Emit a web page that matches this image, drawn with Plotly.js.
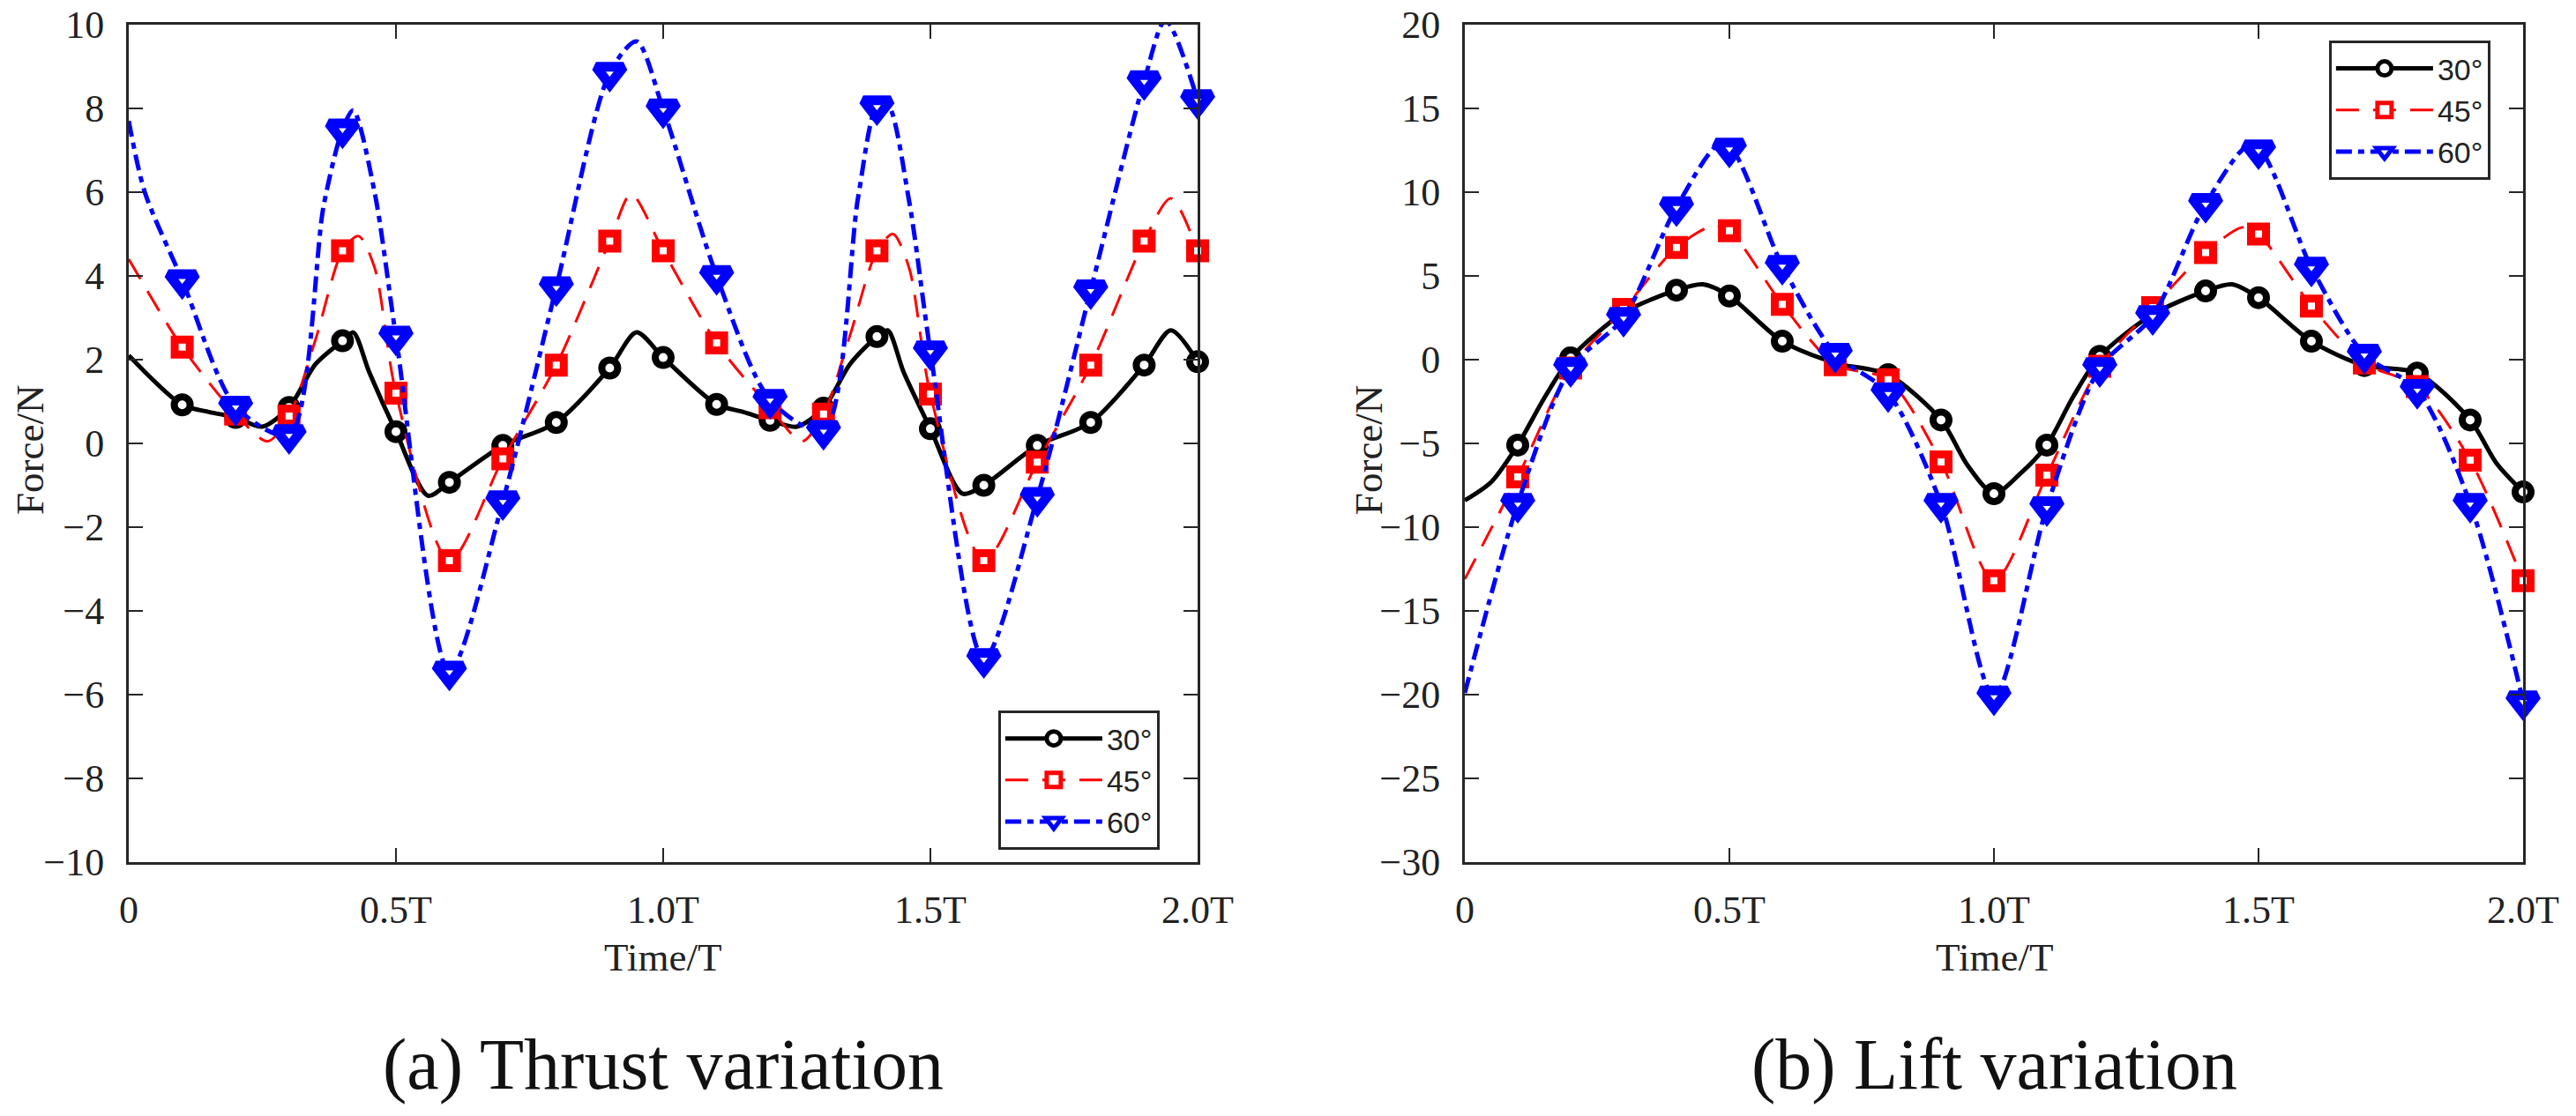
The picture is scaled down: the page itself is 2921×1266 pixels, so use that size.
<!DOCTYPE html>
<html>
<head>
<meta charset="utf-8">
<script src="https://cdn.plot.ly/plotly-3.0.1.min.js"></script>
<style>
  html, body { margin: 0; padding: 0; background: #fff; }
  #chart { width: 2921px; height: 1266px; }
</style>
</head>
<body>
<div id="chart"></div>
<script>
// marker times (fraction of period T)
var tMark = [0.1, 0.2, 0.3, 0.4, 0.5, 0.6, 0.7, 0.8, 0.9, 1.0,
             1.1, 1.2, 1.3, 1.4, 1.5, 1.6, 1.7, 1.8, 1.9, 2.0];
var tickVals = [0, 0.5, 1.0, 1.5, 2.0];
var tickText = ['0', '0.5T', '1.0T', '1.5T', '2.0T'];
var seriesNames = ['30°', '45°', '60°'];

// (a) thrust, marker values
var thrust30Mark = [0.92, 0.62, 0.86, 2.45, 0.28, -0.93, -0.05, 0.5, 1.8, 2.05,
                    0.93, 0.55, 0.84, 2.55, 0.35, -1.0, -0.05, 0.5, 1.87, 1.95];
var thrust45Mark = [2.3, 0.7, 0.65, 4.6, 1.2, -2.8, -0.37, 1.87, 4.83, 4.6,
                    2.4, 0.85, 0.7, 4.6, 1.18, -2.8, -0.45, 1.87, 4.83, 4.6];
var thrust60Mark = [3.9, 0.88, 0.2, 7.5, 2.55, -5.45, -1.38, 3.73, 8.85, 7.98,
                    4.0, 1.04, 0.3, 8.05, 2.2, -5.15, -1.3, 3.66, 8.65, 8.2];

// (a) thrust, curve samples
var thrust30LineT = [0, 0.1, 0.15, 0.2, 0.25, 0.3, 0.35, 0.4, 0.42, 0.45, 0.5, 0.56, 0.6, 0.7, 0.8, 0.9, 0.95, 1.0,
                     1.1, 1.15, 1.2, 1.25, 1.3, 1.35, 1.4, 1.42, 1.45, 1.5, 1.56, 1.6, 1.7, 1.8, 1.9, 1.95, 2.0];
var thrust30LineV = [2.1, 0.92, 0.75, 0.62, 0.4, 0.86, 1.9, 2.45, 2.65, 1.7, 0.28, -1.25, -0.93, -0.05, 0.5, 1.8, 2.65, 2.05,
                     0.93, 0.75, 0.55, 0.4, 0.84, 1.9, 2.55, 2.7, 1.7, 0.35, -1.2, -1.0, -0.05, 0.5, 1.87, 2.7, 1.95];
var thrust45LineT = [0, 0.1, 0.2, 0.26, 0.3, 0.35, 0.4, 0.43, 0.46, 0.5, 0.6, 0.7, 0.8, 0.9, 0.94, 1.0,
                     1.1, 1.2, 1.26, 1.3, 1.35, 1.4, 1.43, 1.46, 1.5, 1.6, 1.7, 1.8, 1.9, 1.95, 2.0];
var thrust45LineV = [4.4, 2.3, 0.7, 0.05, 0.65, 2.5, 4.6, 4.95, 4.2, 1.2, -2.8, -0.37, 1.87, 4.83, 5.95, 4.6,
                     2.4, 0.85, 0.05, 0.7, 2.6, 4.6, 5.0, 4.2, 1.18, -2.8, -0.45, 1.87, 4.83, 5.85, 4.6];
var thrust60LineT = [0, 0.03, 0.1, 0.2, 0.3, 0.365, 0.4, 0.42, 0.46, 0.5, 0.6, 0.7, 0.8, 0.9, 0.95, 1.0,
                     1.1, 1.2, 1.3, 1.365, 1.4, 1.42, 1.46, 1.5, 1.6, 1.7, 1.8, 1.9, 1.94, 2.0];
var thrust60LineV = [7.7, 6.0, 3.9, 0.88, 0.2, 5.7, 7.5, 7.95, 6.0, 2.55, -5.45, -1.38, 3.73, 8.85, 9.6, 7.98,
                     4.0, 1.04, 0.3, 5.9, 8.05, 8.1, 5.8, 2.2, -5.15, -1.3, 3.66, 8.65, 10.1, 8.2];

// (b) lift, marker values
var lift30Mark = [-5.1, 0.1, 2.8, 4.15, 3.8, 1.1, -0.2, -0.9, -3.6, -8.0,
                  -5.1, 0.2, 2.7, 4.1, 3.7, 1.1, -0.35, -0.8, -3.6, -7.9];
var lift45Mark = [-7.0, -0.5, 3.0, 6.7, 7.7, 3.3, -0.3, -1.2, -6.1, -13.2,
                  -6.9, -0.4, 3.1, 6.4, 7.5, 3.2, -0.2, -1.6, -6.0, -13.2];
var lift60Mark = [-8.6, -0.5, 2.5, 9.1, 12.6, 5.6, 0.35, -2.0, -8.6, -20.1,
                  -8.8, -0.5, 2.6, 9.3, 12.5, 5.5, 0.3, -1.8, -8.6, -20.4];

// (b) lift, curve samples
var lift30LineT = [0, 0.05, 0.1, 0.15, 0.2, 0.3, 0.4, 0.45, 0.5, 0.6, 0.7, 0.8, 0.9, 0.95, 1.0,
                   1.05, 1.1, 1.15, 1.2, 1.3, 1.4, 1.45, 1.5, 1.6, 1.7, 1.8, 1.9, 1.95, 2.0];
var lift30LineV = [-8.4, -7.3, -5.1, -2.3, 0.1, 2.8, 4.15, 4.5, 3.8, 1.1, -0.2, -0.9, -3.6, -6.3, -8.0,
                   -6.8, -5.1, -2.2, 0.2, 2.7, 4.1, 4.5, 3.7, 1.1, -0.35, -0.8, -3.6, -6.2, -7.9];
var lift45LineT = [0, 0.1, 0.2, 0.3, 0.4, 0.47, 0.5, 0.6, 0.7, 0.8, 0.9, 1.0,
                   1.1, 1.2, 1.3, 1.4, 1.47, 1.5, 1.6, 1.7, 1.8, 1.9, 2.0];
var lift45LineV = [-13.1, -7.0, -0.5, 3.0, 6.7, 8.0, 7.7, 3.3, -0.3, -1.2, -6.1, -13.2,
                   -6.9, -0.4, 3.1, 6.4, 7.9, 7.5, 3.2, -0.2, -1.6, -6.0, -13.2];
var lift60LineT = [0, 0.1, 0.2, 0.3, 0.4, 0.49, 0.6, 0.7, 0.8, 0.9, 1.0,
                   1.1, 1.2, 1.3, 1.4, 1.49, 1.6, 1.7, 1.8, 1.9, 2.0];
var lift60LineV = [-19.9, -8.6, -0.5, 2.5, 9.1, 13.0, 5.6, 0.35, -2.0, -8.6, -20.1,
                   -8.8, -0.5, 2.6, 9.3, 12.9, 5.5, 0.3, -1.8, -8.6, -20.4];

var serif = 'Liberation Serif, Times New Roman, serif';
var axisColor = '#262626';

var styles = [
  { line: { color: '#000000', width: 5, dash: 'solid' },
    marker: { symbol: 'circle', size: 18, color: '#ffffff', line: { color: '#000000', width: 8 } } },
  { line: { color: '#ff0000', width: 3, dash: '26px,16px' },
    marker: { symbol: 'square', size: 17, color: '#ffffff', line: { color: '#ff0000', width: 9 } } },
  { line: { color: '#0000ff', width: 5, dash: '18px,7px,7px,7px' },
    marker: { symbol: 'triangle-down', size: 27, color: '#ffffff', line: { color: '#0000ff', width: 11 } } }
];

function panelTraces(lines, marks, xa, ya, legendId) {
  var out = [];
  for (var i = 0; i < lines.length; i++) {
    out.push({
      x: lines[i][0], y: lines[i][1], type: 'scatter', mode: 'lines',
      line: Object.assign({ shape: 'spline', smoothing: 0.8 }, styles[i].line),
      xaxis: xa, yaxis: ya, showlegend: false, hoverinfo: 'skip'
    });
    out.push({
      x: tMark, y: marks[i], type: 'scatter', mode: 'markers',
      marker: styles[i].marker, cliponaxis: false,
      xaxis: xa, yaxis: ya, showlegend: false
    });
  }
  // legend entries (line + marker sample)
  for (var j = 0; j < lines.length; j++) {
    out.push({
      x: [null], y: [null], type: 'scatter', mode: 'lines+markers',
      name: seriesNames[j], line: styles[j].line, marker: styles[j].marker,
      xaxis: xa, yaxis: ya, legend: legendId, showlegend: true
    });
  }
  return out;
}

var data = panelTraces(
  [[thrust30LineT, thrust30LineV], [thrust45LineT, thrust45LineV], [thrust60LineT, thrust60LineV]],
  [thrust30Mark, thrust45Mark, thrust60Mark], 'x', 'y', 'legend'
).concat(panelTraces(
  [[lift30LineT, lift30LineV], [lift45LineT, lift45LineV], [lift60LineT, lift60LineV]],
  [lift30Mark, lift45Mark, lift60Mark], 'x2', 'y2', 'legend2'
));

function xAxis(domain, anchor) {
  return {
    domain: domain, anchor: anchor, range: [0, 2],
    tickvals: tickVals, ticktext: tickText,
    showline: true, linecolor: axisColor, linewidth: 3, mirror: 'ticks',
    ticks: 'inside', ticklen: 16, tickwidth: 2.5, tickcolor: axisColor,
    showgrid: false, zeroline: false, ticklabelstandoff: 13,
    tickfont: { family: serif, size: 44, color: '#222' }
  };
}
function yAxis(range, dtick, anchor) {
  return {
    domain: [0.2275, 0.9779], anchor: anchor, range: range, dtick: dtick,
    showline: true, linecolor: axisColor, linewidth: 3, mirror: 'ticks',
    ticks: 'inside', ticklen: 16, tickwidth: 2.5, tickcolor: axisColor,
    showgrid: false, zeroline: false, ticklabelstandoff: 16,
    tickfont: { family: serif, size: 44, color: '#222' }
  };
}
function legendBox(x, y) {
  return {
    x: x, y: y, xanchor: 'left', yanchor: 'top',
    bgcolor: '#ffffff', bordercolor: axisColor, borderwidth: 3,
    font: { family: 'Liberation Sans Narrow, Liberation Sans, sans-serif', size: 34, color: '#222' },
    itemwidth: 110, tracegroupgap: 0
  };
}

var titleFont = { family: serif, size: 45, color: '#222' };
var captionFont = { family: serif, size: 82, color: '#111' };

var layout = {
  width: 2921, height: 1266,
  margin: { l: 0, r: 0, t: 0, b: 0 },
  paper_bgcolor: '#ffffff', plot_bgcolor: '#ffffff',
  xaxis: xAxis([0.04998, 0.46491], 'y'),
  yaxis: yAxis([-10, 10], 2, 'x'),
  xaxis2: xAxis([0.56864, 0.97946], 'y2'),
  yaxis2: yAxis([-30, 20], 5, 'x2'),
  legend: legendBox(0.3875, 0.3633),
  legend2: legendBox(0.9041, 0.9637),
  annotations: [
    { text: 'Force/N', xref: 'paper', yref: 'paper', x: 0.0116, y: 0.597, textangle: -90,
      showarrow: false, font: titleFont, xanchor: 'center', yanchor: 'middle' },
    { text: 'Force/N', xref: 'paper', yref: 'paper', x: 0.5313, y: 0.597, textangle: -90,
      showarrow: false, font: titleFont, xanchor: 'center', yanchor: 'middle' },
    { text: 'Time/T', xref: 'paper', yref: 'paper', x: 0.2574, y: 0.1422,
      showarrow: false, font: titleFont, xanchor: 'center', yanchor: 'middle' },
    { text: 'Time/T', xref: 'paper', yref: 'paper', x: 0.7741, y: 0.1422,
      showarrow: false, font: titleFont, xanchor: 'center', yanchor: 'middle' },
    { text: '(a) Thrust variation', xref: 'paper', yref: 'paper', x: 0.2574, y: 0.0466,
      showarrow: false, font: captionFont, xanchor: 'center', yanchor: 'middle' },
    { text: '(b) Lift variation', xref: 'paper', yref: 'paper', x: 0.7741, y: 0.0466,
      showarrow: false, font: captionFont, xanchor: 'center', yanchor: 'middle' }
  ]
};

Plotly.newPlot('chart', data, layout, { staticPlot: true });
</script>
</body>
</html>
